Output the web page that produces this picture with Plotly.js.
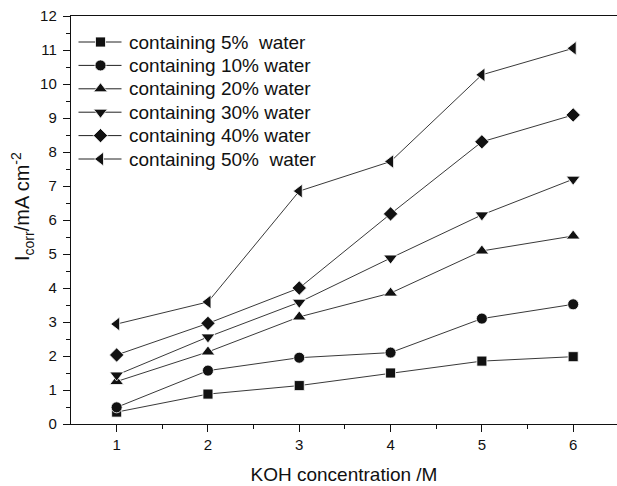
<!DOCTYPE html>
<html>
<head>
<meta charset="utf-8">
<script src="https://cdn.plot.ly/plotly-3.0.1.min.js"></script>
<style>html,body{margin:0;padding:0;background:#fff;}#chart{width:617px;height:486px;}</style>
</head>
<body>
<div id="chart"></div>
<script>
const koh = [1, 2, 3, 4, 5, 6];
const seriesNames = [
  "containing 5%  water",
  "containing 10% water",
  "containing 20% water",
  "containing 30% water",
  "containing 40% water",
  "containing 50%  water"
];
const water5  = [0.35, 0.88, 1.13, 1.50, 1.85, 1.98];
const water10 = [0.49, 1.57, 1.95, 2.10, 3.10, 3.52];
const water20 = [1.25, 2.12, 3.15, 3.85, 5.09, 5.53];
const water30 = [1.44, 2.56, 3.58, 4.88, 6.15, 7.20];
const water40 = [2.03, 2.96, 4.00, 6.18, 8.30, 9.09];
const water50 = [2.94, 3.59, 6.85, 7.72, 10.27, 11.05];

const allY = [water5, water10, water20, water30, water40, water50];
const symbols = ["square", "circle", "triangle-up", "triangle-down", "diamond", "triangle-left"];
const sizes = [10, 11, 12, 12, 11, 12];
const ink = "#111";

const traces = allY.map((ys, i) => ({
  x: koh, y: ys, name: seriesNames[i], type: "scatter", mode: "lines+markers",
  line: {color: "#222", width: 0.9},
  marker: {symbol: symbols[i], size: sizes[i], color: ink, line: {color: "#fff", width: 0.8}},
  showlegend: false
}));

// ---- manual legend (layout geometry, in pixels) ----
const W = 617, H = 486, ML = 71, MR = 0, MT = 16, MB = 62;
const PW = W - ML - MR, PH = H - MT - MB;
const px2x = p => (p - ML) / PW;
const py2y = p => (H - MB - p) / PH;
const legTop = 42, legStep = 23.4, legLine0 = 78.5, legLine1 = 121.5, legMark = 100.5, legText = 128;

function markerPath(sym, size) {
  const r = size / 2;
  const rt = r * 2 / Math.sqrt(3), r2 = r / 2, rd = r * 1.3;
  const f = v => v.toFixed(2);
  switch (sym) {
    case "square": return `M${f(-r)},${f(-r)}H${f(r)}V${f(r)}H${f(-r)}Z`;
    case "triangle-up": return `M${f(-rt)},${f(-r2)}H${f(rt)}L0,${f(r)}Z`;
    case "triangle-down": return `M${f(-rt)},${f(r2)}H${f(rt)}L0,${f(-r)}Z`;
    case "diamond": return `M${f(rd)},0L0,${f(rd)}L${f(-rd)},0L0,${f(-rd)}Z`;
    case "triangle-left": return `M${f(r2)},${f(-rt)}V${f(rt)}L${f(-r)},0Z`;
  }
  return "";
}

const shapes = [];
const annotations = [];
seriesNames.forEach((nm, i) => {
  const py = legTop + i * legStep;
  shapes.push({type: "line", xref: "paper", yref: "paper",
    x0: px2x(legLine0), x1: px2x(legLine1), y0: py2y(py), y1: py2y(py),
    line: {color: "#222", width: 1}});
  if (symbols[i] === "circle") {
    const r = sizes[i] / 2;
    shapes.push({type: "circle", xref: "paper", yref: "paper",
      xsizemode: "pixel", ysizemode: "pixel", xanchor: px2x(legMark), yanchor: py2y(py),
      x0: -r, x1: r, y0: -r, y1: r, fillcolor: ink, line: {color: "#fff", width: 0.8}});
  } else {
    shapes.push({type: "path", xref: "paper", yref: "paper",
      xsizemode: "pixel", ysizemode: "pixel", xanchor: px2x(legMark), yanchor: py2y(py),
      path: markerPath(symbols[i], sizes[i]), fillcolor: ink, line: {color: "#fff", width: 0.8}});
  }
  annotations.push({xref: "paper", yref: "paper", x: px2x(legText), y: py2y(py),
    xanchor: "left", yanchor: "middle", showarrow: false, borderpad: 0,
    text: nm.replace(/  /g, "&nbsp; "), font: {family: "Liberation Sans, Arial, sans-serif", size: 19, color: ink}});
});

const font = "Liberation Sans, Arial, Helvetica, sans-serif";
// y-axis title as rotated annotation (placed to match reference)
annotations.push({xref: "paper", yref: "paper", x: px2x(22), y: py2y(207),
  xanchor: "center", yanchor: "middle", showarrow: false, textangle: -90, borderpad: 0,
  text: "I<sub>corr</sub>/mA cm<sup>-2</sup>", font: {family: font, size: 20, color: ink}});

const layout = {
  width: W, height: H,
  margin: {l: ML, r: MR, t: MT, b: MB},
  paper_bgcolor: "#fff", plot_bgcolor: "#fff",
  font: {family: font, color: ink, size: 15},
  showlegend: false,
  shapes: shapes,
  annotations: annotations,
  xaxis: {
    range: [0.5, 6.48], tickvals: koh, ticktext: koh.map(String),
    showgrid: false, zeroline: false,
    showline: true, linecolor: ink, linewidth: 1.2, mirror: true,
    ticks: "outside", ticklen: 7, tickwidth: 1, tickcolor: ink,
    minor: {tickvals: [1.5, 2.5, 3.5, 4.5, 5.5], ticks: "outside", ticklen: 4, tickcolor: ink},
    tickfont: {size: 15, family: font, color: ink},
    title: {text: "KOH concentration /M", font: {size: 19, family: font, color: ink}, standoff: 15}
  },
  yaxis: {
    range: [0, 12], dtick: 1, tick0: 0,
    showgrid: false, zeroline: false,
    showline: true, linecolor: ink, linewidth: 1.2, mirror: false,
    ticks: "outside", ticklen: 7, tickwidth: 1, tickcolor: ink,
    ticklabelstandoff: 3,
    minor: {dtick: 0.5, tick0: 0, ticks: "outside", ticklen: 4, tickcolor: ink},
    tickfont: {size: 15, family: font, color: ink}
  }
};
Plotly.newPlot("chart", traces, layout, {displayModeBar: false, staticPlot: true});
</script>
</body>
</html>
